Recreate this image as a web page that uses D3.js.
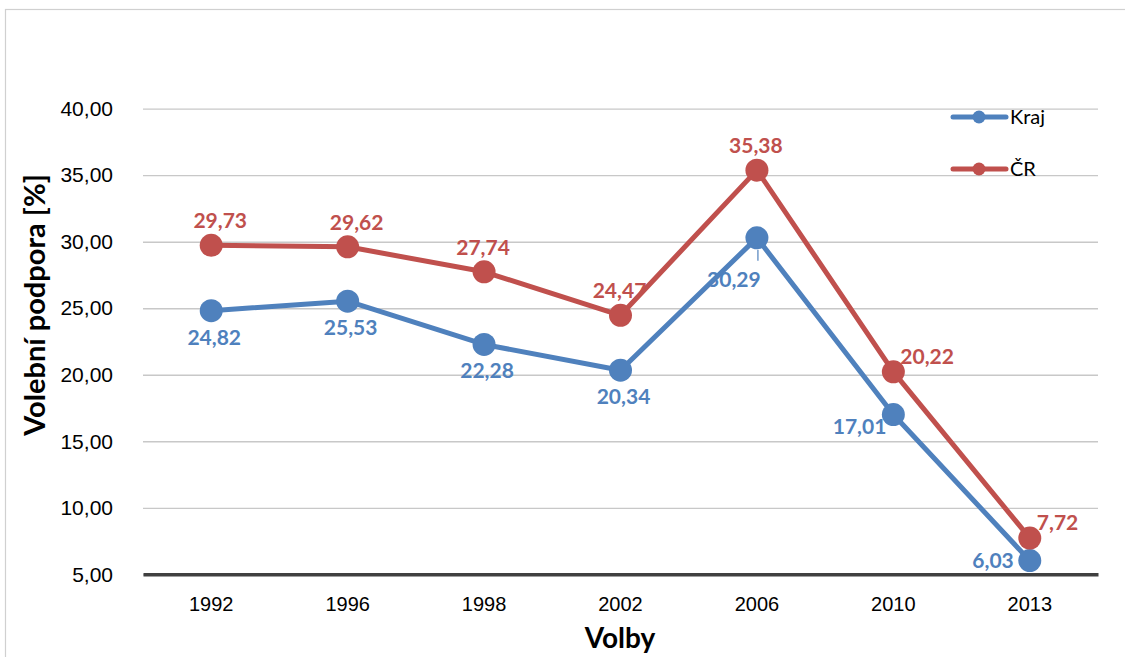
<!DOCTYPE html>
<html>
<head>
<meta charset="utf-8">
<script src="https://cdn.jsdelivr.net/npm/d3@7"></script>
<style>
	body { margin: 0; background: #fff; }
	svg { font-family: Lato, "Open Sans", sans-serif; }
</style>
</head>
<body>
<svg id="chart" width="1125" height="657"></svg>
<script>
// data
let years = ['1992', '1996', '1998', '2002', '2006', '2010', '2013'];
let kraj = [24.82, 25.53, 22.28, 20.34, 30.29, 17.01, 6.03];
let cr = [29.73, 29.62, 27.74, 24.47, 35.38, 20.22, 7.72];
let yTicks = [5, 10, 15, 20, 25, 30, 35, 40];

// where each value label sits relative to its point
let krajPlace = ['below', 'below', 'below', 'below', 'belowLeft', 'leftDown', 'left'];
let crPlace = ['aboveRight', 'aboveRight', 'above', 'above', 'above', 'rightUp', 'rightUp'];

let svg = d3.select('#chart');
let margin = { top: 108.7, right: 27, bottom: 82.7, left: 143 };
let width = +svg.attr('width') - margin.left - margin.right;
let height = +svg.attr('height') - margin.top - margin.bottom;

let fmt = v => v.toFixed(2).replace('.', ',');

// outer frame (only top & left edges are visible)
svg.append('rect')
	.attr('x', 5.5).attr('y', 9.5)
	.attr('width', 1200).attr('height', 800)
	.attr('fill', 'none')
	.attr('stroke', '#d0d0d0')
	.attr('stroke-width', 1.2);

let chart = svg.append('g')
	.attr('transform', 'translate(' + margin.left + ', ' + margin.top + ')');

let x = d3.scaleBand()
	.domain(years)
	.range([0, width]);

let y = d3.scaleLinear()
	.domain([5, 40])
	.range([height, 0]);

let cx = d => x(d) + x.bandwidth() / 2;

// gridlines + y labels
let yAxis = d3.axisLeft(y)
	.tickValues(yTicks)
	.tickSize(-width)
	.tickPadding(30)
	.tickFormat(fmt);

let gy = chart.append('g').call(yAxis);
gy.select('.domain').remove();
gy.selectAll('line').attr('stroke', '#c8c8c8').attr('stroke-width', 1.3);
gy.selectAll('text')
	.attr('fill', '#000')
	.style('font-size', '21px');

// x axis
let xAxis = d3.axisBottom(x).tickSize(0).tickPadding(23);
let gx = chart.append('g')
	.attr('transform', 'translate(0, ' + height + ')')
	.call(xAxis);
gx.select('.domain').attr('stroke', '#404040').attr('stroke-width', 3.5);
gx.selectAll('text')
	.attr('fill', '#000')
	.style('font-size', '20px');

// axis titles
svg.append('text')
	.attr('transform', 'translate(45, 305) rotate(-90)')
	.attr('text-anchor', 'middle')
	.style('font-size', '29px')
	.style('font-weight', 'bold')
	.text('Volební podpora [%]');

svg.append('text')
	.attr('x', 620)
	.attr('y', 648)
	.attr('text-anchor', 'middle')
	.style('font-size', '28px')
	.style('font-weight', 'bold')
	.text('Volby');

let series = [
	{ name: 'Kraj', values: kraj, color: '#4f81bd', place: krajPlace },
	{ name: 'ČR', values: cr, color: '#c0504d', place: crPlace }
];

let line = d3.line()
	.x((d, i) => cx(years[i]))
	.y(d => y(d));

series.forEach(s => {
	chart.append('path')
		.datum(s.values)
		.attr('fill', 'none')
		.attr('stroke', s.color)
		.attr('stroke-width', 5)
		.attr('stroke-linejoin', 'round')
		.attr('d', line);

	chart.selectAll('.dot-' + s.name)
		.data(s.values)
		.enter()
		.append('circle')
		.attr('r', 11.5)
		.attr('cx', (d, i) => cx(years[i]))
		.attr('cy', d => y(d))
		.attr('fill', s.color);
});

// value labels
function labelPos(place) {
	switch (place) {
		case 'below': return { dx: 3, dy: 34, anchor: 'middle' };
		case 'belowLeft': return { dx: -23, dy: 49, anchor: 'middle' };
		case 'leftDown': return { dx: -7, dy: 19, anchor: 'end' };
		case 'left': return { dx: -16, dy: 7, anchor: 'end' };
		case 'rightUp': return { dx: 7, dy: -8, anchor: 'start' };
		case 'aboveRight': return { dx: 9, dy: -17, anchor: 'middle' };
		default: return { dx: -1, dy: -17, anchor: 'middle' };
	}
}

series.forEach(s => {
	chart.selectAll('.lbl-' + s.name)
		.data(s.values)
		.enter()
		.append('text')
		.each(function (d, i) {
			let p = labelPos(s.place[i]);
			d3.select(this)
				.attr('x', cx(years[i]) + p.dx)
				.attr('y', y(d) + p.dy)
				.attr('text-anchor', p.anchor);
		})
		.attr('fill', s.color)
		.style('font-size', '21px')
		.style('font-weight', 'bold')
		.text(d => fmt(d));
});

// leader line for the 2006 Kraj label
chart.append('line')
	.attr('x1', cx('2006') + 1).attr('x2', cx('2006') + 1)
	.attr('y1', y(kraj[4]) + 12).attr('y2', y(kraj[4]) + 23)
	.attr('stroke', '#4f81bd')
	.attr('stroke-width', 1.2);

// legend
let legend = svg.append('g');
series.forEach((s, i) => {
	let ly = 117 + i * 52;
	legend.append('line')
		.attr('x1', 953).attr('x2', 1006)
		.attr('y1', ly).attr('y2', ly)
		.attr('stroke', s.color)
		.attr('stroke-width', 5)
		.attr('stroke-linecap', 'round');
	legend.append('circle')
		.attr('cx', 979).attr('cy', ly)
		.attr('r', 6.5)
		.attr('fill', s.color);
	legend.append('text')
		.attr('x', 1010).attr('y', ly + 7)
		.style('font-size', '20px')
		.text(s.name);
});
</script>
</body>
</html>
